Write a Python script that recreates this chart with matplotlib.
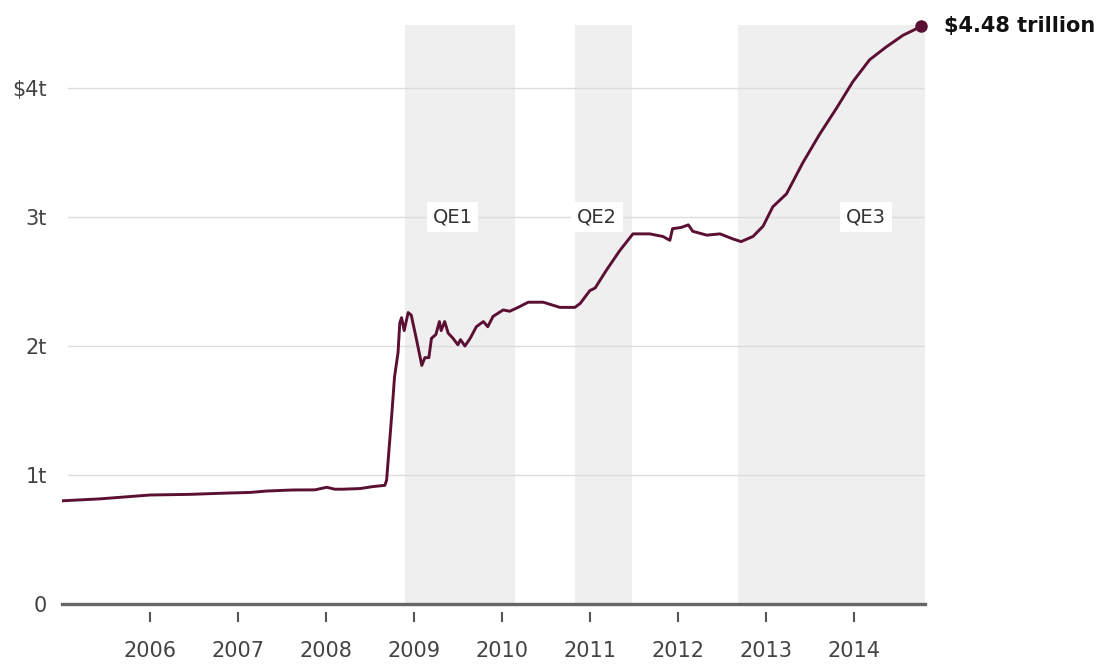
import numpy as np
import matplotlib
matplotlib.use("Agg")
import matplotlib.pyplot as plt

# Fed balance sheet, trillions of dollars (decimal years)
dates = [2005.00, 2005.43, 2006.00, 2006.45, 2006.875, 2007.14, 2007.33, 2007.625,
         2007.875, 2008.01, 2008.10, 2008.19, 2008.39, 2008.53, 2008.67, 2008.69,
         2008.75, 2008.78, 2008.82, 2008.84, 2008.86, 2008.89, 2008.935, 2008.97,
         2009.03, 2009.09, 2009.125, 2009.17, 2009.20, 2009.25, 2009.29, 2009.31,
         2009.35, 2009.39, 2009.445, 2009.50, 2009.53, 2009.58, 2009.64, 2009.71,
         2009.79, 2009.84, 2009.90, 2010.015, 2010.09, 2010.185, 2010.30, 2010.47,
         2010.66, 2010.83, 2010.89, 2011.00, 2011.06, 2011.19, 2011.34, 2011.49,
         2011.68, 2011.83, 2011.91, 2011.94, 2012.04, 2012.12, 2012.17, 2012.33,
         2012.48, 2012.63, 2012.72, 2012.855, 2012.97, 2013.08, 2013.235, 2013.42,
         2013.61, 2013.80, 2013.99, 2014.18, 2014.37, 2014.56, 2014.71, 2014.77]
assets = [0.80, 0.815, 0.845, 0.85, 0.86, 0.865, 0.876, 0.884,
          0.885, 0.905, 0.89, 0.89, 0.895, 0.91, 0.92, 0.96,
          1.48, 1.76, 1.95, 2.18, 2.22, 2.12, 2.26, 2.24,
          2.05, 1.85, 1.91, 1.91, 2.06, 2.09, 2.19, 2.12,
          2.19, 2.10, 2.06, 2.01, 2.05, 2.00, 2.06, 2.15,
          2.19, 2.15, 2.23, 2.28, 2.27, 2.30, 2.34, 2.34,
          2.30, 2.30, 2.33, 2.43, 2.45, 2.59, 2.74, 2.87,
          2.87, 2.85, 2.82, 2.91, 2.92, 2.94, 2.89, 2.86,
          2.87, 2.83, 2.81, 2.85, 2.93, 3.08, 3.18, 3.42,
          3.64, 3.84, 4.05, 4.22, 4.32, 4.41, 4.46, 4.48]

qe_names = ["QE1", "QE2", "QE3"]
qe_start = [2008.90, 2010.83, 2012.69]
qe_end = [2010.15, 2011.48, 2014.81]
qe_label_x = [2009.44, 2011.08, 2014.14]

years = [2006, 2007, 2008, 2009, 2010, 2011, 2012, 2013, 2014]
y_ticks = [0, 1, 2, 3, 4]
y_labels = ["0", "1t", "2t", "3t", r"\$4t"]

line_color = "#5a0f33"
plt.rcParams["font.family"] = ["DejaVu Sans"]

fig = plt.figure(figsize=(11.05, 6.64), dpi=100)
ax = fig.add_axes([0.0561, 0.0904, 0.781, 0.872])

# QE shading
for s, e in zip(qe_start, qe_end):
    ax.axvspan(s, e, color="#efefef", lw=0, zorder=0)
for lx, name in zip(qe_label_x, qe_names):
    ax.text(lx, 3, name, ha="center", va="center", fontsize=14, color="#333333", zorder=2,
            bbox=dict(boxstyle="square,pad=0.3", fc="white", ec="none"))

for v in y_ticks[1:]:
    ax.axhline(v, xmin=0.007, color="#dddddd", lw=1, zorder=1)
ax.axhline(0, color="#666666", lw=2.4, zorder=3, clip_on=False)

ax.plot(dates, assets, color=line_color, lw=2.1, zorder=4)
ax.plot(dates[-1], assets[-1], "o", color=line_color, ms=8, zorder=5, clip_on=False)
ax.annotate(r"\$4.48 trillion", (dates[-1], assets[-1]), xytext=(16, 0),
            textcoords="offset points", ha="left", va="center",
            fontsize=15, fontweight="bold", color="#111111", annotation_clip=False)

ax.set_xlim(2005.0, 2014.81)
ax.set_ylim(0, 4.49)

ax.set_xticks(years)
ax.set_xticklabels([str(y) for y in years])
ax.set_yticks(y_ticks)
ax.set_yticklabels(y_labels)

for side in ["top", "right", "left"]:
    ax.spines[side].set_visible(False)
ax.spines["bottom"].set_position(("outward", 6))
ax.spines["bottom"].set_visible(False)
ax.tick_params(axis="x", direction="out", length=7, width=1.5, color="#555555",
               pad=14, labelsize=15, labelcolor="#444444")
ax.tick_params(axis="y", length=0, pad=11, labelsize=15, labelcolor="#444444")

fig.savefig("out.png", dpi=100, facecolor="white")
